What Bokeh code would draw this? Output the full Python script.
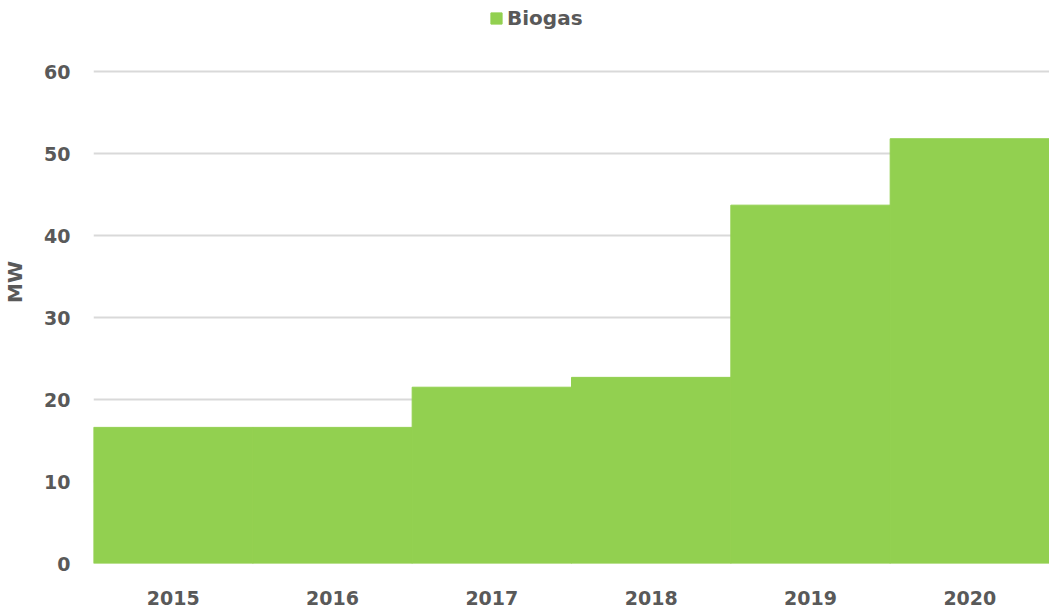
from bokeh.plotting import figure
from bokeh.models import Range1d, Legend, LegendItem, FixedTicker, ColumnDataSource
from bokeh.embed import file_html
from bokeh.resources import INLINE

years = [2015, 2016, 2017, 2018, 2019, 2020]
biogas_mw = [16.6, 16.6, 21.5, 22.7, 43.7, 51.8]
y_ticks = [0, 10, 20, 30, 40, 50, 60]

FONT = "DejaVu Sans"
TXT = "#595959"
GREEN = "#92D050"

src = ColumnDataSource(dict(year=years, mw=biogas_mw))

# frame spans the full top so the legend can sit above the 60 gridline
p = figure(width=1049, height=607, output_backend="svg", toolbar_location=None,
           x_range=Range1d(2014.5, 2020.5), y_range=Range1d(0, 68.66),
           min_border_left=89, min_border_right=0, min_border_top=0, min_border_bottom=36)
p.outline_line_color = None
p.background_fill_color = "white"
p.border_fill_color = "white"

r = p.vbar(x="year", top="mw", width=1.0, source=src, fill_color=GREEN,
           line_color=GREEN, line_width=1)

p.xgrid.grid_line_color = None
p.ygrid.grid_line_color = "#d9d9d9"
p.ygrid.grid_line_width = 2
p.ygrid.ticker = FixedTicker(ticks=y_ticks)

p.yaxis.ticker = FixedTicker(ticks=y_ticks)
p.xaxis.ticker = FixedTicker(ticks=years)
for ax in (p.xaxis[0], p.yaxis[0]):
    ax.axis_line_color = None
    ax.major_tick_line_color = None
    ax.minor_tick_line_color = None
    ax.major_label_text_font = FONT
    ax.major_label_text_font_style = "bold"
    ax.major_label_text_font_size = "19px"
    ax.major_label_text_color = TXT
p.yaxis.major_label_standoff = 17
p.xaxis.major_label_standoff = 21
p.yaxis.axis_label = "MW"
p.yaxis.axis_label_text_font = FONT
p.yaxis.axis_label_text_font_style = "bold"
p.yaxis.axis_label_text_font_size = "20px"
p.yaxis.axis_label_text_color = TXT
p.yaxis.axis_label_standoff = 14

legend = Legend(items=[LegendItem(label="Biogas", renderers=[r])],
                location=(396, 533), orientation="horizontal",
                label_text_font=FONT, label_text_font_style="bold",
                label_text_font_size="20px", label_text_color=TXT,
                glyph_width=14, glyph_height=14, padding=0, margin=0,
                label_standoff=4, border_line_color=None, background_fill_alpha=0)
p.add_layout(legend, "center")

open("out.html", "w").write(file_html(p, INLINE))
